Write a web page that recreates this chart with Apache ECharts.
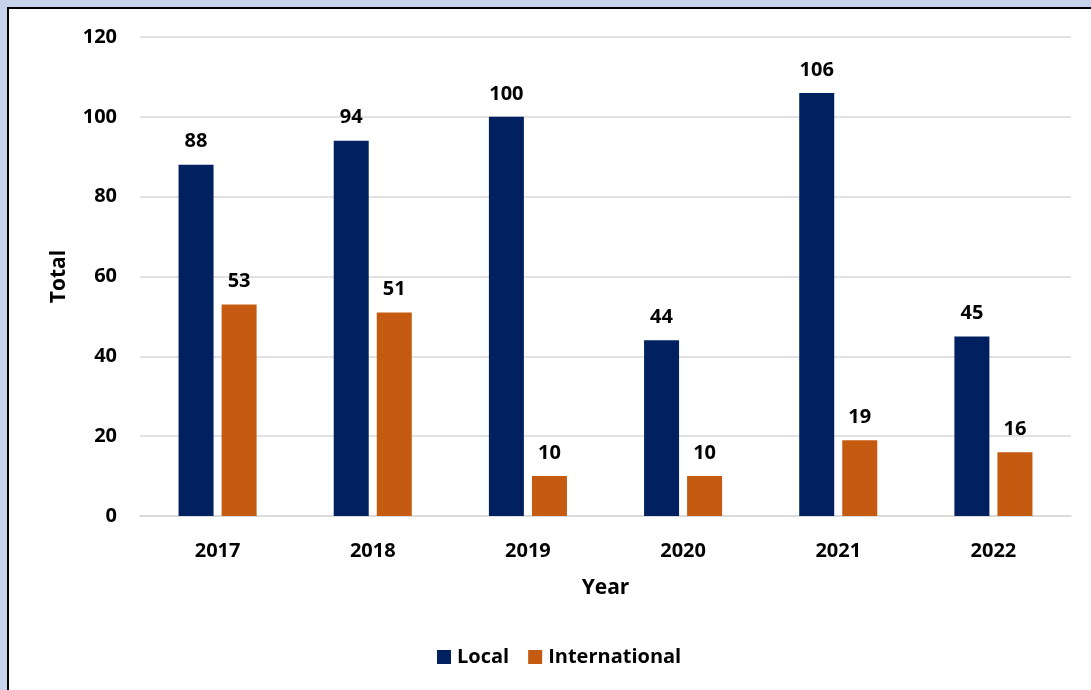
<!DOCTYPE html>
<html>
<head>
<meta charset="utf-8">
<script src="https://cdn.jsdelivr.net/npm/echarts@6/dist/echarts.min.js"></script>
<style>
html,body{margin:0;padding:0;background:#fff;}
#chart{width:1091px;height:690px;}
</style>
</head>
<body>
<div id="chart"></div>
<script>
const categories = ['2017', '2018', '2019', '2020', '2021', '2022'];
const localValues = [88, 94, 100, 44, 106, 45];
const internationalValues = [53, 51, 10, 10, 19, 16];
const yTicks = [0, 20, 40, 60, 80, 100, 120];

const FONT = '"Open Sans", "DejaVu Sans", sans-serif';
const chart = echarts.init(document.getElementById('chart'), null, {renderer: 'canvas'});
const labelStyle = {show: true, position: 'top', distance: 13, color: '#000', fontFamily: FONT, fontWeight: 'bold', fontSize: 20};
chart.setOption({
  animation: false,
  backgroundColor: '#c6d3ea',
  graphic: [
    {type: 'rect', z: -10, silent: true, shape: {x: 8, y: 8, width: 1200, height: 800},
     style: {fill: '#ffffff', stroke: '#000000', lineWidth: 2}}
  ],
  textStyle: {fontFamily: FONT},
  grid: {left: 140, right: 20, top: 37, bottom: 174, containLabel: false},
  legend: {
    bottom: 18, left: 432, itemWidth: 14, itemHeight: 14, itemGap: 19,
    icon: 'rect',
    textStyle: {color: '#000', fontFamily: FONT, fontWeight: 'bold', fontSize: 20, padding: [0, 0, 0, 1]},
    data: ['Local', 'International']
  },
  xAxis: {
    type: 'category', data: categories,
    name: 'Year', nameLocation: 'middle', nameGap: 62,
    nameTextStyle: {color: '#000', fontFamily: FONT, fontWeight: 'bold', fontSize: 21},
    axisLine: {lineStyle: {color: '#d9d9d9', width: 1.5}},
    axisTick: {show: false},
    axisLabel: {color: '#000', fontFamily: FONT, fontWeight: 'bold', fontSize: 20, margin: 25}
  },
  yAxis: {
    type: 'value', min: 0, max: 120, interval: 20,
    name: 'Total', nameLocation: 'middle', nameGap: 70, nameRotate: 90,
    nameTextStyle: {color: '#000', fontFamily: FONT, fontWeight: 'bold', fontSize: 21},
    axisLine: {show: false}, axisTick: {show: false},
    splitLine: {lineStyle: {color: '#d9d9d9', width: 1.5}},
    axisLabel: {color: '#000', fontFamily: FONT, fontWeight: 'bold', fontSize: 20, margin: 23,
      formatter: v => yTicks.includes(v) ? String(v) : ''}
  },
  series: [
    {name: 'Local', type: 'bar', data: localValues, barWidth: 35, barGap: '23%',
     itemStyle: {color: '#002060'}, label: labelStyle},
    {name: 'International', type: 'bar', data: internationalValues, barWidth: 35,
     itemStyle: {color: '#c55a11'}, label: labelStyle}
  ]
});
</script>
</body>
</html>
